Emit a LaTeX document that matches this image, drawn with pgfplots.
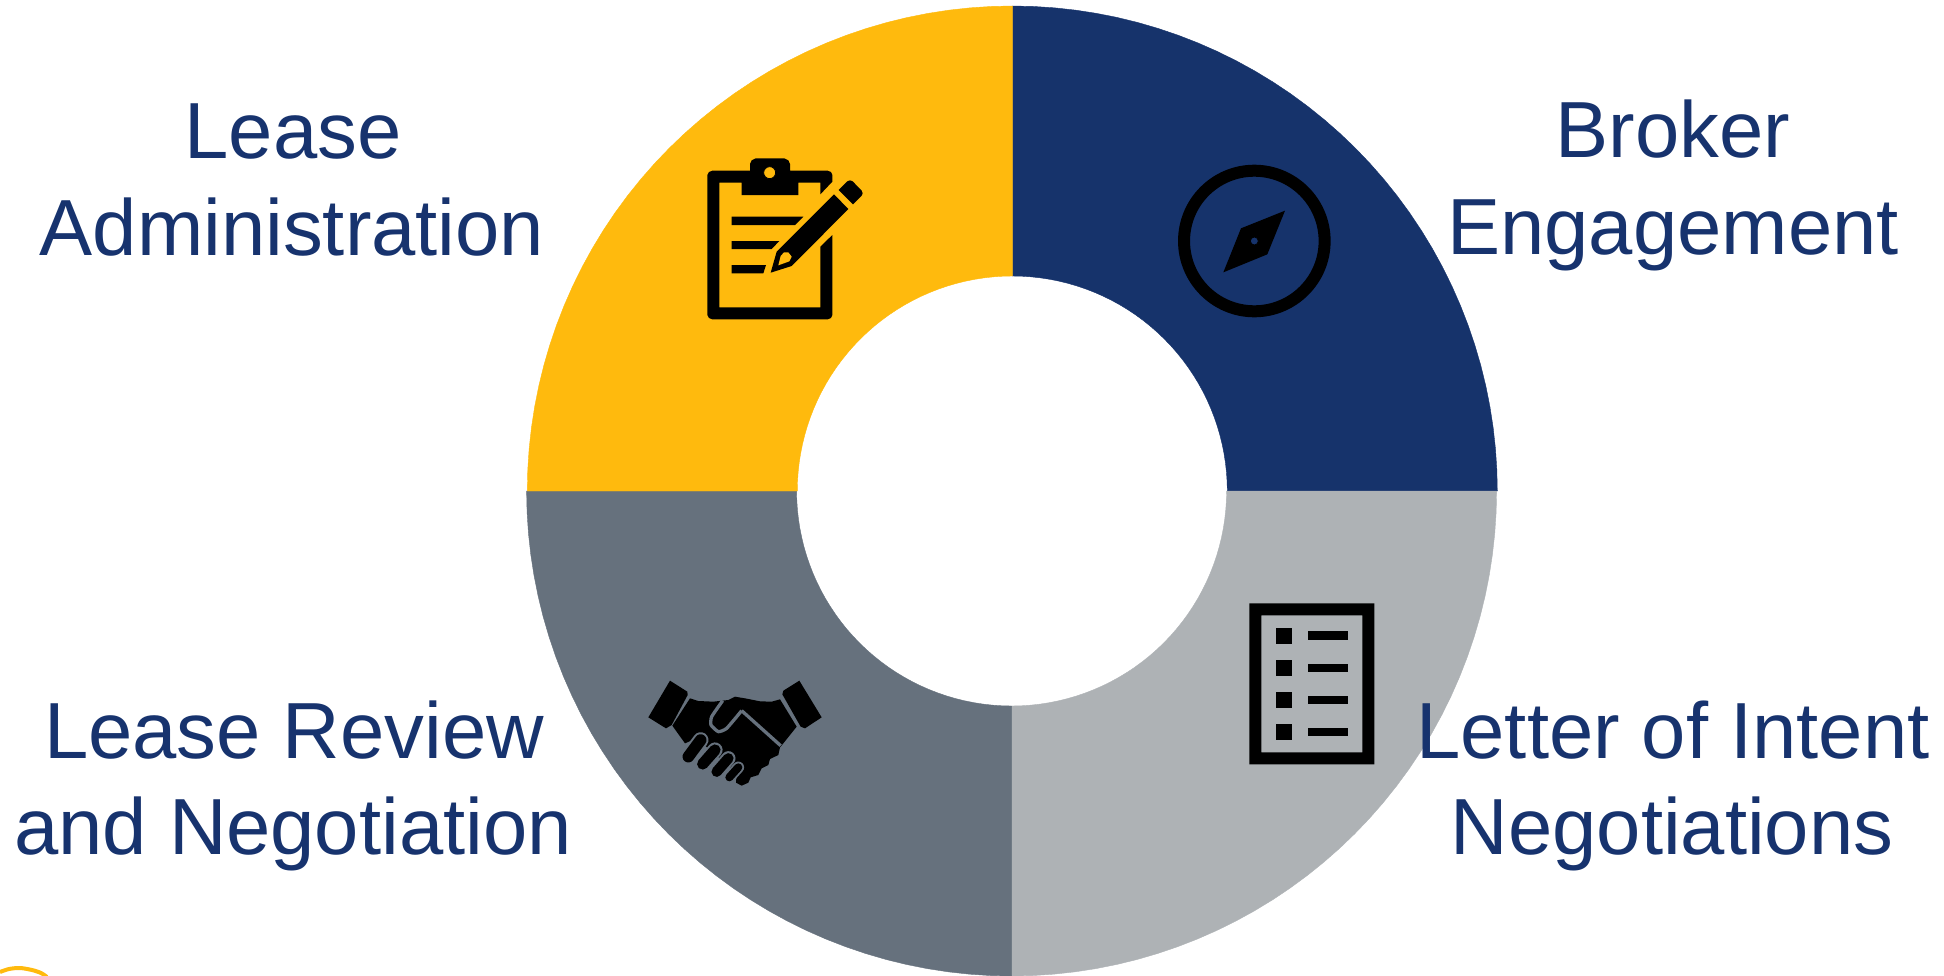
\documentclass[border=0pt]{standalone}
\usepackage{pgfplots}
\usepackage{pgfplotstable}
\usepackage{fontspec}
\setmainfont{Liberation Sans}
\pgfplotsset{compat=1.18}

\definecolor{wedgeNavy}{HTML}{16336B}
\definecolor{wedgeGold}{HTML}{FFBA0D}
\definecolor{wedgeSlate}{HTML}{66717D}
\definecolor{wedgeGrey}{HTML}{AEB2B5}
\definecolor{labelNavy}{HTML}{17336E}

% Outline of one quarter of the ring, measured from the centre of the donut
\pgfplotstableread{
x y
0 485
21.16 484.54
42.27 483.15
63.31 480.85
84.22 477.63
104.97 473.51
125.53 468.48
145.84 462.55
165.88 455.75
185.60 448.08
204.97 439.56
223.95 430.20
242.5 420.02
260.59 409.04
278.19 397.29
295.25 384.77
311.75 371.53
327.66 357.58
342.95 342.95
357.58 327.66
371.53 311.75
384.77 295.25
397.29 278.19
409.04 260.59
420.02 242.5
430.20 223.95
439.56 204.97
448.08 185.60
455.75 165.88
462.55 145.84
468.48 125.53
473.51 104.97
477.63 84.22
480.85 63.31
483.15 42.27
484.54 21.16
485 0
215 0
214.80 9.38
214.18 18.74
213.16 28.06
211.73 37.33
209.90 46.53
207.67 55.65
205.05 64.65
202.03 73.53
198.63 82.28
194.86 90.86
190.71 99.28
186.20 107.5
181.33 115.52
176.12 123.32
170.57 130.88
164.70 138.20
158.52 145.25
152.03 152.03
145.25 158.52
138.20 164.70
130.88 170.57
123.32 176.12
115.52 181.33
107.5 186.20
99.28 190.71
90.86 194.86
82.28 198.63
73.53 202.03
64.65 205.05
55.65 207.67
46.53 209.90
37.33 211.73
28.06 213.16
18.74 214.18
9.38 214.80
0 215
}\ringquarter

\pgfplotsset{
  wedge/.style n args={4}{fill=#1, draw=#1, line width=0.2pt,
    x filter/.expression={#4+(#2)*x},
    y filter/.expression={491-(#3)*y}},
  % icons are written in a local grid three times finer than the axis
  icon/.style 2 args={
    x filter/.expression={#1+x/3},
    y filter/.expression={#2+y/3}},
  solid shape/.style={fill=#1, draw=none},
  solid shape/.default=black,
}
\tikzset{
  label text/.style={anchor=base, text=labelNavy, inner sep=0pt,
    font=\fontsize{39.8}{48}\selectfont},
}

\begin{document}
\begin{tikzpicture}
\begin{axis}[
  width=972pt, height=487.5pt, scale only axis,
  xmin=0, xmax=1944, ymin=0, ymax=975, y dir=reverse,
  hide axis,
]
\path (rel axis cs:0,0) rectangle (rel axis cs:1,1);

% the four equal sectors of the donut
\addplot[wedge={wedgeNavy}{1}{1}{1012.3}] table {\ringquarter} -- cycle;
\addplot[wedge={wedgeGrey}{1}{-1}{1011.6}] table {\ringquarter} -- cycle;
\addplot[wedge={wedgeSlate}{-1}{-1}{1011.6}] table {\ringquarter} -- cycle;
\addplot[wedge={wedgeGold}{-1}{1}{1012.3}] table {\ringquarter} -- cycle;

% clipboard and pen
\addplot[solid shape, icon={680}{140}] coordinates {
  (457,125)(457,105)(453,96)(443,92)(330,92)(330,72)(325,61)(313,55)(227,55)(215,61)(210,72)(210,92)
  (97,92)(87,96)(82,105)(82,525)(87,534)(97,538)(443,538)(453,534)(457,525)(457,285)(421,320)
  (421,502)(118,502)(118,128)(185,128)(185,165)(355,165)(355,128)(421,128)(421,163)} -- cycle;
\addplot[only marks, mark=*, mark size=3pt, mark options={fill=wedgeGold, draw=none}, icon={680}{140}]
  coordinates {(269,98)};
\addplot[solid shape, icon={680}{140}] coordinates {(155,230)(370,230)(345,255)(155,255)} -- cycle;
\addplot[solid shape, icon={680}{140}] coordinates {(155,303)(298,303)(275,327)(155,327)} -- cycle;
\addplot[solid shape, icon={680}{140}] coordinates {(155,375)(258,375)(250,400)(155,400)} -- cycle;
\addplot[solid shape, icon={680}{140}] coordinates {
  (462,163)(505,207)(345,368)(335,378)(272,398)(290,335)(300,325)} -- cycle;
\addplot[solid shape, icon={680}{140}] coordinates {
  (476,150)(502,124)(510,121)(518,124)(545,152)(548,160)(545,167)(519,193)} -- cycle;
\addplot[solid shape=wedgeGold, icon={680}{140}] coordinates {
  (295,376)(302,348)(312,337)(325,337)(335,350)(328,364)} -- cycle;

% compass
\addplot[only marks, mark=o, mark size=35.15pt, mark options={draw=black, line width=6pt, fill=none}, icon={1160}{150}]
  coordinates {(283,273)};
\addplot[solid shape, icon={1160}{150}] coordinates {(375,182)(322,313)(190,367)(243,235)} -- cycle;
\addplot[only marks, mark=*, mark size=2pt, mark options={fill=wedgeNavy, draw=none}, icon={1160}{150}]
  coordinates {(283,273)};

% handshake
\addplot[solid shape, icon={630}{660}] coordinates {
  (120,62)(172,95)(173,105)(125,195)(108,205)(55,172)} -- cycle;
\addplot[solid shape, icon={630}{660}] coordinates {
  (508,62)(575,172)(525,205)(512,200)(457,103)(460,92)} -- cycle;
\addplot[solid shape, icon={630}{660}] coordinates {
  (180,115)(205,123)(250,125)(295,120)(315,110)(345,115)(390,124)(425,125)(450,118)(500,200)(460,250)
  (450,262)(445,285)(420,297)(415,315)(395,325)(385,345)(362,352)(355,368)(335,377)(318,368)
  (320,340)(200,235)(165,250)(127,197)} -- cycle;
\addplot[wedgeSlate, line width=1.65pt, line join=round, smooth, tension=0.3, icon={630}{660}] coordinates {
  (278,122)(245,170)(243,195)(265,215)(290,205)(335,152)};
\addplot[wedgeSlate, line width=1.65pt, icon={630}{660}] coordinates {(335,152)(452,257)};
\addplot[wedgeSlate, line width=7.8pt, line cap=round, icon={630}{660}] coordinates {(175,290)(212,240)};
\addplot[black, line width=5.8pt, line cap=round, icon={630}{660}] coordinates {(175,290)(212,240)};
\addplot[wedgeSlate, line width=7.6pt, line cap=round, icon={630}{660}] coordinates {(218,312)(255,270)};
\addplot[black, line width=5.6pt, line cap=round, icon={630}{660}] coordinates {(218,312)(255,270)};
\addplot[wedgeSlate, line width=7.2pt, line cap=round, icon={630}{660}] coordinates {(260,335)(295,295)};
\addplot[black, line width=5.2pt, line cap=round, icon={630}{660}] coordinates {(260,335)(295,295)};
\addplot[wedgeSlate, line width=5.8pt, line cap=round, icon={630}{660}] coordinates {(298,352)(325,322)};
\addplot[black, line width=4pt, line cap=round, icon={630}{660}] coordinates {(298,352)(325,322)};

% checklist sheet
\addplot[solid shape, icon={1230}{590}] coordinates {
  (58,40)(433,40)(433,523)(58,523)(58,40)(94,76)(94,487)(397,487)(397,76)(94,76)} -- cycle;
\addplot[solid shape, icon={1230}{590}] coordinates {(137,113)(185,113)(185,161)(137,161)} -- cycle;
\addplot[solid shape, icon={1230}{590}] coordinates {(137,210)(185,210)(185,258)(137,258)} -- cycle;
\addplot[solid shape, icon={1230}{590}] coordinates {(137,306)(185,306)(185,355)(137,355)} -- cycle;
\addplot[solid shape, icon={1230}{590}] coordinates {(137,403)(185,403)(185,451)(137,451)} -- cycle;
\addplot[solid shape, icon={1230}{590}] coordinates {(234,124)(355,124)(355,149)(234,149)} -- cycle;
\addplot[solid shape, icon={1230}{590}] coordinates {(234,221)(355,221)(355,246)(234,246)} -- cycle;
\addplot[solid shape, icon={1230}{590}] coordinates {(234,318)(355,318)(355,343)(234,343)} -- cycle;
\addplot[solid shape, icon={1230}{590}] coordinates {(234,415)(355,415)(355,439)(234,439)} -- cycle;

% partly visible ring in the lower left corner
\addplot[wedgeGold, line width=2pt, smooth] coordinates {
  (0,972)(9,969)(20,968)(32,970)(41,973)(47,977)};

% sector labels
\node[label text] at (axis cs:293,158) {Lease};
\node[label text] at (axis cs:292,255) {Administration};
\node[label text] at (axis cs:1673,157) {Broker};
\node[label text] at (axis cs:1673,254) {Engagement};
\node[label text] at (axis cs:294,758) {Lease Review};
\node[label text] at (axis cs:293,854) {and Negotiation};
\node[label text] at (axis cs:1673,758) {Letter of Intent};
\node[label text] at (axis cs:1672,854) {Negotiations};
\end{axis}
\end{tikzpicture}
\end{document}
